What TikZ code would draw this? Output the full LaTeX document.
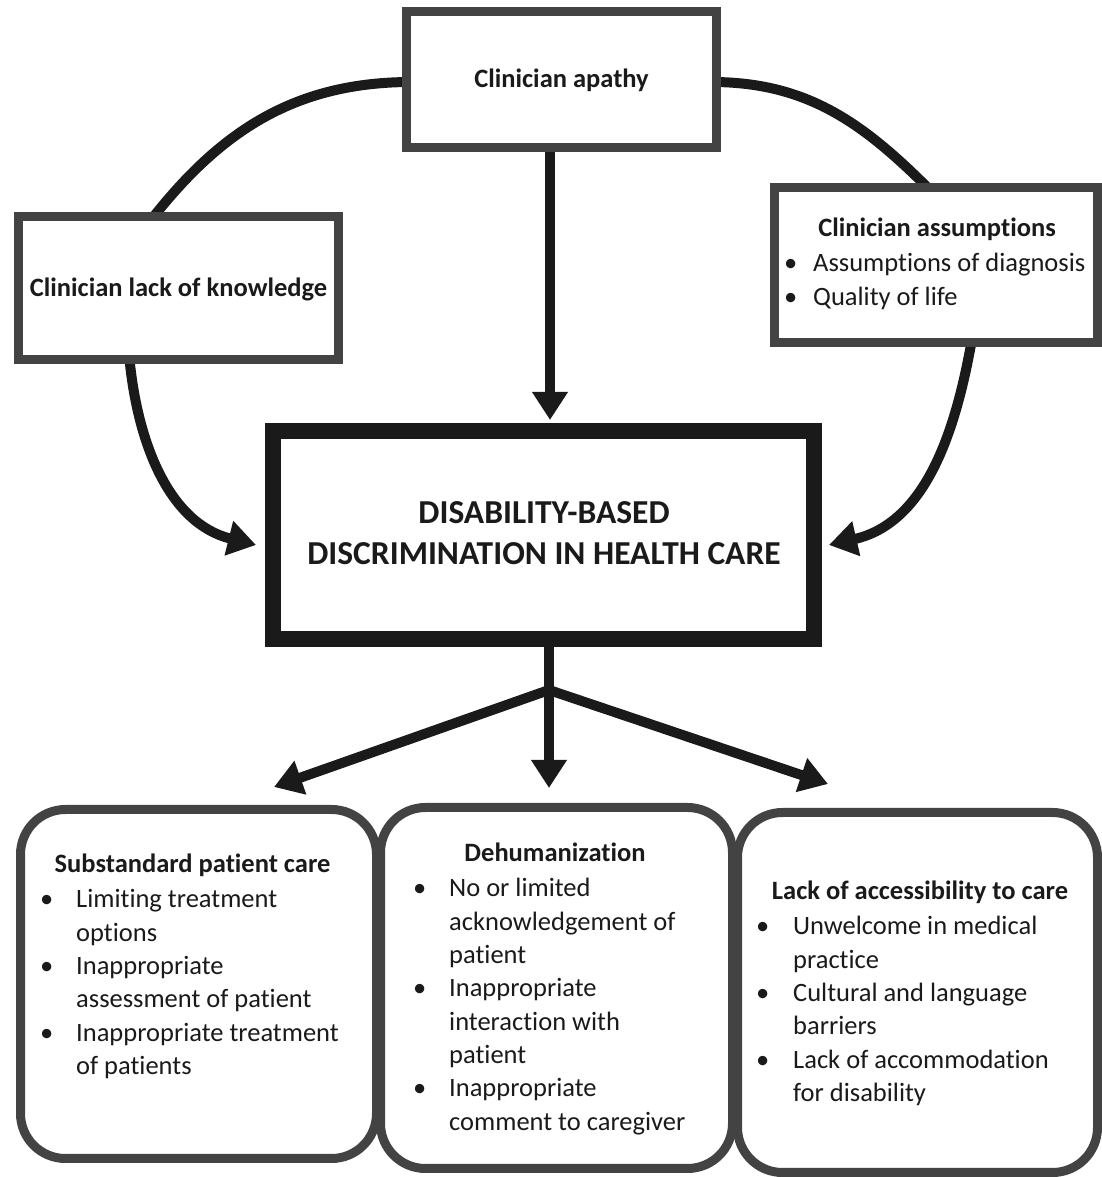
\documentclass[tikz,border=0pt]{standalone}
\usepackage{fontspec}
\setmainfont{Carlito}[Ligatures=NoCommon]
\usetikzlibrary{arrows.meta}
\definecolor{ink}{HTML}{1A1A1A}
\definecolor{boxgray}{HTML}{434343}
\newcommand{\mybul}[1]{\makebox[#1][l]{\textbullet}}
\begin{document}
\begin{tikzpicture}[x=1pt,y=1pt,
  sqbox/.style={draw=boxgray, line width=9pt, fill=white, inner sep=0pt,
    font=\fontsize{26.5}{33}\selectfont\bfseries, text=ink, text height=17pt, text depth=0pt},
  rbox/.style={draw=boxgray, line width=9pt, fill=white, rounded corners=45pt, inner sep=0pt},
  mainbox/.style={draw=ink, line width=16pt, fill=white, inner sep=0pt},
  conn/.style={draw=ink, line width=10pt, -{Triangle[length=28pt,width=34pt]}},
  plainconn/.style={draw=ink, line width=10pt},
  ttl/.style={font=\fontsize{26.5}{33}\selectfont\bfseries, text=ink, inner sep=0pt, anchor=base},
  lst/.style={font=\fontsize{26.5}{33.3}\selectfont, text=ink, inner sep=0pt, anchor=base west},
]
\useasboundingbox (0,0) rectangle (1102,1177);
\fill[white] (0,0) rectangle (1102,1177);

% connector end points
\coordinate (a1) at (412,1095);
\coordinate (lt) at (151,957);
\coordinate (a2) at (711,1095);
\coordinate (at) at (929,988);
\coordinate (lb) at (129,823);
\coordinate (ltip) at (256,632);
\coordinate (ab) at (972,838);
\coordinate (rtip) at (829,632);
\coordinate (ap) at (550,1030);
\coordinate (mtop) at (550,757);
\coordinate (mb) at (549,535);
\coordinate (br) at (549,487);
\coordinate (dtip) at (549,389);
\coordinate (dl) at (274,390);
\coordinate (dr) at (828,393);

% connectors (drawn first, boxes cover their ends)
\draw[plainconn] (a1) to[out=180,in=52] (lt);
\draw[plainconn] (a2) to[out=0,in=135] (at);
\draw[conn] (lb) to[out=-85,in=166] (ltip);
\draw[conn] (ab) to[out=-100,in=13] (rtip);
\draw[conn] (ap) -- (mtop);
\draw[conn] (mb) -- (dtip);
\draw[conn] (br) -- (dl);
\draw[conn] (br) -- (dr);

% top boxes
\node[sqbox, minimum width=310pt, minimum height=136pt] (apathy) at (561.5,1097.5) {Clinician apathy};
\node[sqbox, minimum width=320pt, minimum height=143pt] (lack) at (178.5,889) {Clinician lack of knowledge};
\node[sqbox, minimum width=323pt, minimum height=155pt] (assum) at (936,912) {};
\node[ttl] (assumt) at (937,940) {Clinician assumptions};
\node[lst] (assuml) at (784,905) {\begin{tabular}[t]{@{}l@{}l@{}}
\mybul{29pt} & Assumptions of diagnosis\\
\textbullet & Quality of life
\end{tabular}};

% main box
\node[mainbox, minimum width=541pt, minimum height=208pt] (main) at (543.5,642) {};
\node[font=\fontsize{33.5}{41}\selectfont\bfseries, text=ink, inner sep=0pt, anchor=base] (maint) at (544,653)
 {\begin{tabular}[t]{@{}c@{}}DISABILITY-BASED\\DISCRIMINATION IN HEALTH CARE\end{tabular}};

% bottom boxes
\node[rbox, minimum width=356pt, minimum height=349pt] (care) at (198.5,193) {};
\node[rbox, minimum width=352pt, minimum height=361pt] (dehum) at (556.5,189) {};
\node[rbox, minimum width=360pt, minimum height=360pt] (access) at (917.5,184.5) {};

\node[ttl] (caret) at (192.5,304) {Substandard patient care};
\node[lst] (carel) at (40,269) {\begin{tabular}[t]{@{}l@{}l@{}}
\mybul{36pt} & Limiting treatment\\
 & options\\
\textbullet & Inappropriate\\
 & assessment of patient\\
\textbullet & Inappropriate treatment\\
 & of patients
\end{tabular}};

\node[ttl] (dehumt) at (555,315) {Dehumanization};
\node[lst] (dehuml) at (413,280) {\begin{tabular}[t]{@{}l@{}l@{}}
\mybul{36pt} & No or limited\\
 & acknowledgement of\\
 & patient\\
\textbullet & Inappropriate\\
 & interaction with\\
 & patient\\
\textbullet & Inappropriate\\
 & comment to caregiver
\end{tabular}};

\node[ttl] (accesst) at (920,277) {Lack of accessibility to care};
\node[lst] (accessl) at (756,242) {\begin{tabular}[t]{@{}l@{}l@{}}
\mybul{37pt} & Unwelcome in medical\\
 & practice\\
\textbullet & Cultural and language\\
 & barriers\\
\textbullet & Lack of accommodation\\
 & for disability
\end{tabular}};
\end{tikzpicture}
\end{document}
